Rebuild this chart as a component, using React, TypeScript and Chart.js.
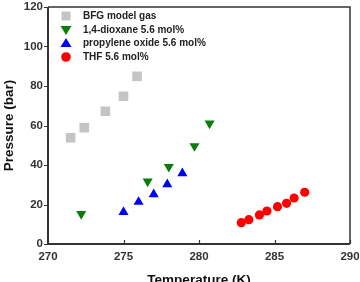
import React, { useEffect, useRef } from "react";
import { Chart, registerables } from "chart.js";

Chart.register(...registerables);

const bfgT = [271.5, 272.4, 273.8, 275.0, 275.9];
const bfgP = [53.8, 58.9, 67.2, 74.8, 84.9];
const dioxT = [272.2, 276.6, 278.0, 279.7, 280.7];
const dioxP = [15.2, 31.7, 39.1, 49.6, 61.1];
const poT = [275.0, 276.0, 277.0, 277.9, 278.9];
const poP = [16.2, 21.3, 25.2, 30.2, 35.8];
const thfT = [282.8, 283.3, 284.0, 284.5, 285.2, 285.8, 286.3, 287.0];
const thfP = [10.8, 12.3, 14.7, 16.7, 18.9, 20.6, 23.3, 26.2];

const seriesNames = ["BFG model gas", "1,4-dioxane 5.6 mol%", "propylene oxide 5.6 mol%", "THF 5.6 mol%"];
const xTicks = [270, 275, 280, 285, 290];
const yTicks = [0, 20, 40, 60, 80, 100, 120];
const xTitle = "Temperature (K)";
const yTitle = "Pressure (bar)";

const FONT = "'Liberation Sans', Arial, sans-serif";
const AXIS = "#333333";

const toPts = (xs: number[], ys: number[]) => xs.map((x, i) => ({ x, y: ys[i] }));

const framePlugin = {
  id: "frame",
  afterDatasetsDraw(chart: any) {
    const { ctx, chartArea, scales } = chart;
    const { left, right, top, bottom } = chartArea;
    ctx.save();
    ctx.strokeStyle = AXIS;
    ctx.lineWidth = 1.5;
    ctx.beginPath();
    ctx.moveTo(left, top);
    ctx.lineTo(right, top);
    ctx.lineTo(right, bottom);
    ctx.stroke();
    ctx.lineWidth = 2;
    ctx.beginPath();
    ctx.moveTo(left, top);
    ctx.lineTo(left, bottom);
    ctx.lineTo(right, bottom);
    ctx.stroke();
    ctx.lineWidth = 1.2;
    ctx.beginPath();
    xTicks.forEach((v) => {
      const px = Math.round(scales.x.getPixelForValue(v)) + 0.5;
      ctx.moveTo(px, bottom);
      ctx.lineTo(px, bottom - 4);
    });
    yTicks.forEach((v) => {
      const py = Math.round(scales.y.getPixelForValue(v)) + 0.5;
      ctx.moveTo(left, py);
      ctx.lineTo(left - 4, py);
    });
    ctx.stroke();

    const items = chart.data.datasets;
    const lx = 66;
    const rows = [16, 30, 43, 57];
    ctx.font = `bold 10px ${FONT}`;
    ctx.textBaseline = "middle";
    ctx.textAlign = "left";
    items.forEach((ds: any, i: number) => {
      const y = rows[i];
      ctx.fillStyle = ds.backgroundColor;
      ctx.beginPath();
      const s = ds.pointStyle;
      if (s === "rect") {
        ctx.rect(lx - 4.5, y - 4.5, 9, 9);
      } else if (s === "triangle") {
        const rot = ds.pointRotation || 0;
        const h = 5.5;
        if (rot === 180) {
          ctx.moveTo(lx - h, y - 4);
          ctx.lineTo(lx + h, y - 4);
          ctx.lineTo(lx, y + 5);
        } else {
          ctx.moveTo(lx - h, y + 4);
          ctx.lineTo(lx + h, y + 4);
          ctx.lineTo(lx, y - 5);
        }
        ctx.closePath();
      } else {
        ctx.arc(lx, y, 4.8, 0, Math.PI * 2);
      }
      ctx.fill();
      ctx.fillStyle = "#222222";
      ctx.fillText(ds.label, 83, y + 0.5);
    });
    ctx.restore();
  },
};

export default function App() {
  const ref = useRef<HTMLCanvasElement | null>(null);
  useEffect(() => {
    document.body.style.margin = "0";
    const canvas = ref.current;
    if (!canvas) return;
    const chart = new Chart(canvas, {
      type: "scatter",
      data: {
        datasets: [
          {
            label: seriesNames[0],
            data: toPts(bfgT, bfgP),
            pointStyle: "rect",
            pointRadius: 6.8,
            backgroundColor: "#c4c4c4",
            borderWidth: 0,
          },
          {
            label: seriesNames[1],
            data: toPts(dioxT, dioxP),
            pointStyle: "triangle",
            pointRotation: 180,
            pointRadius: 5.8,
            backgroundColor: "#0b7d0b",
            borderWidth: 0,
          },
          {
            label: seriesNames[2],
            data: toPts(poT, poP),
            pointStyle: "triangle",
            pointRadius: 5.8,
            backgroundColor: "#0000ff",
            borderWidth: 0,
          },
          {
            label: seriesNames[3],
            data: toPts(thfT, thfP),
            pointStyle: "circle",
            pointRadius: 4.6,
            backgroundColor: "#ff0000",
            borderWidth: 0,
          },
        ] as any,
      },
      options: {
        animation: false,
        responsive: false,
        maintainAspectRatio: false,
        layout: { padding: { top: 7, right: 10, left: 0, bottom: 0 } },
        plugins: { legend: { display: false }, tooltip: { enabled: false } },
        scales: {
          x: {
            type: "linear",
            min: 270,
            max: 290,
            afterBuildTicks: (s: any) => {
              s.ticks = xTicks.map((v) => ({ value: v }));
            },
            afterFit: (s: any) => {
              s.height = 38;
              s.paddingLeft = 0;
              s.paddingRight = 0;
            },
            grid: { display: false, drawTicks: false },
            border: { display: false },
            ticks: {
              color: AXIS,
              font: { family: FONT, size: 11.5, weight: "bold" },
              padding: 6,
              maxRotation: 0,
            },
            title: {
              display: true,
              text: xTitle,
              color: "#111111",
              font: { family: FONT, size: 13.5, weight: "bold" },
              padding: { top: 0, bottom: -6 },
            },
          },
          y: {
            type: "linear",
            min: 0,
            max: 120,
            afterBuildTicks: (s: any) => {
              s.ticks = yTicks.map((v) => ({ value: v }));
            },
            afterFit: (s: any) => {
              s.width = 48;
              s.paddingTop = 0;
              s.paddingBottom = 0;
            },
            grid: { display: false, drawTicks: false },
            border: { display: false },
            ticks: {
              color: AXIS,
              font: { family: FONT, size: 11.5, weight: "bold" },
              padding: 5,
            },
            title: {
              display: true,
              text: yTitle,
              color: "#111111",
              font: { family: FONT, size: 13.5, weight: "bold" },
              padding: { top: 1, bottom: 0 },
            },
          },
        },
      } as any,
      plugins: [framePlugin],
    });
    return () => chart.destroy();
  }, []);
  return (
    <div style={{ position: "relative", width: 360, height: 282, background: "#fff" }}>
      <canvas ref={ref} width={360} height={282} style={{ display: "block" }} />
    </div>
  );
}
